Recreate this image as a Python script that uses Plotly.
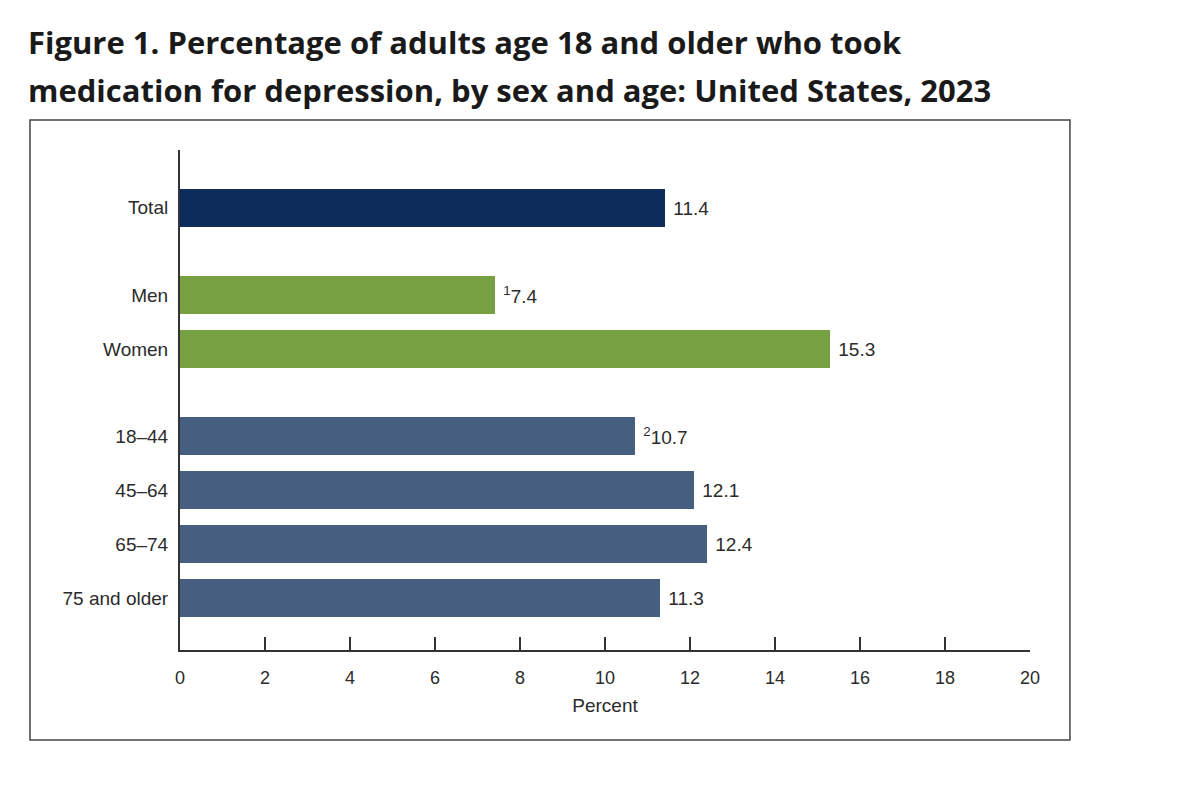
import plotly.graph_objects as go

# data
groups = [["Total"], ["Men", "Women"], ["18–44", "45–64", "65–74", "75 and older"]]
values = [[11.4], [7.4, 15.3], [10.7, 12.1, 12.4, 11.3]]
notes = [[""], ["1", ""], ["2", "", "", ""]]
colors = ["#0d2b5b", "#77a042", "#465f80"]
x_ticks = [0, 2, 4, 6, 8, 10, 12, 14, 16, 18, 20]
title_lines = ["Figure 1. Percentage of adults age 18 and older who took",
               "medication for depression, by sex and age: United States, 2023"]

GAP = 0.61  # extra space between groups
BAR_H = 0.7
TXT = "#2b2b2b"
FONT = "Liberation Sans, Arial"

fig = go.Figure()
pos = 0.0
tickvals, ticktext = [], []
for gi, (labels, vals, nts) in enumerate(zip(groups, values, notes)):
    ys = []
    for lab in labels:
        ys.append(pos)
        tickvals.append(pos)
        ticktext.append(lab)
        pos += 1
    pos += GAP
    txt = ["\u00a0" + (f"<sup>{n}</sup>" if n else "") + f"{v:.1f}" for v, n in zip(vals, nts)]
    fig.add_trace(go.Bar(
        x=vals, y=ys, orientation="h", width=BAR_H,
        marker=dict(color=colors[gi], line=dict(width=0)),
        text=txt, textposition="outside", cliponaxis=False,
        textfont=dict(family=FONT, size=19, color=TXT),
        showlegend=False, hoverinfo="skip",
    ))

last = tickvals[-1]
fig.update_layout(
    width=1200, height=785,
    paper_bgcolor="white", plot_bgcolor="white",
    margin=dict(l=172, r=178, t=142, b=143),
    font=dict(family=FONT, size=18, color=TXT),
    bargap=0, uniformtext=dict(minsize=10),
)
fig.update_xaxes(
    range=[0, 20], tickvals=x_ticks, ticks="inside", ticklen=13, tickwidth=2,
    tickcolor="#333333", showline=True, linecolor="#333333", linewidth=2,
    showgrid=False, zeroline=False, fixedrange=True, ticklabelstandoff=10,
    title=dict(text="Percent", font=dict(family=FONT, size=19, color=TXT), standoff=12),
    tickfont=dict(family=FONT, size=18, color=TXT),
)
fig.update_yaxes(
    range=[last + 0.96, -1.07], tickvals=tickvals, ticktext=ticktext,
    showline=True, linecolor="#333333", linewidth=2, ticks="",
    showgrid=False, zeroline=False, ticklabelstandoff=6,
    tickfont=dict(family=FONT, size=19, color=TXT),
)

# frame around the chart
fig.add_shape(type="rect", xref="paper", yref="paper",
              x0=-0.1765, x1=1.047, y0=-0.18, y1=1.06,
              line=dict(color="#444444", width=1.5), fillcolor="rgba(0,0,0,0)")

for i, line in enumerate(title_lines):
    fig.add_annotation(
        xref="paper", yref="paper", x=-0.1815, y=1.216 - i * 0.096,
        xanchor="left", yanchor="middle", showarrow=False, align="left",
        text=f"<b>{line}</b>",
        font=dict(family="Open Sans", size=31, color="#1a1a1a"),
    )

fig.write_html("out.html")
